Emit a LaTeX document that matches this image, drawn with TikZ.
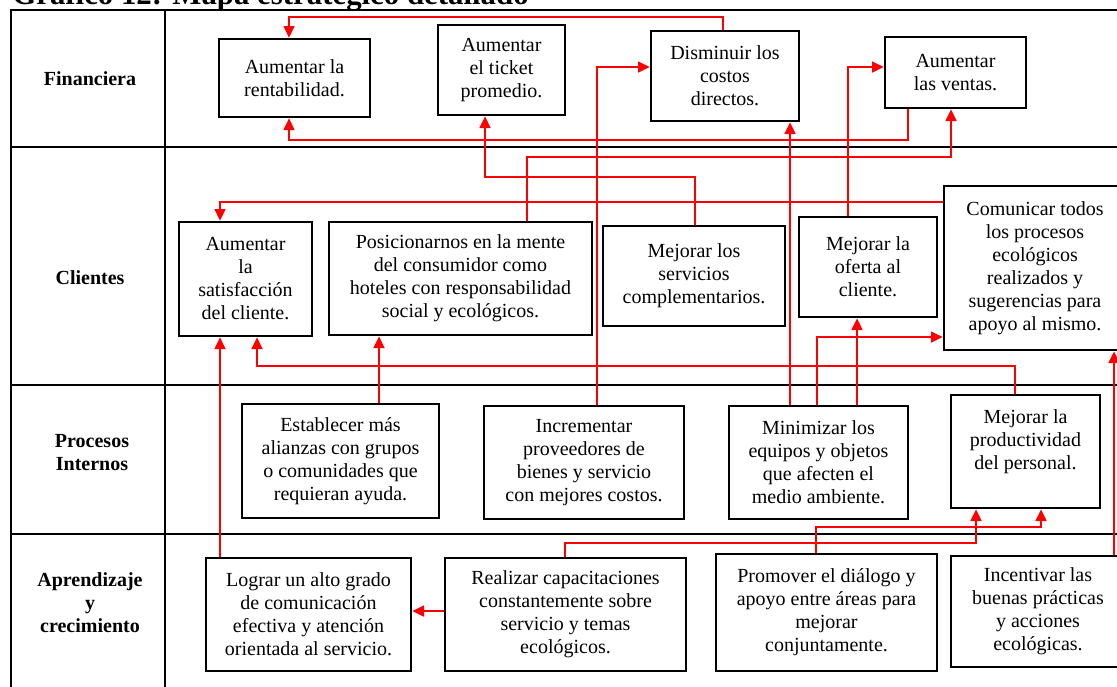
\documentclass[tikz,border=0pt]{standalone}
\usepackage{fontspec}
\setmainfont{Liberation Serif}
\usetikzlibrary{arrows.meta}
\tikzset{
  obj/.style={draw, line width=1.6pt, fill=white, align=center, inner sep=2pt, font=\fontsize{12}{13.8}\selectfont},
  persp/.style={align=center, font=\fontsize{12}{13.8}\selectfont\bfseries},
  tabline/.style={line width=1.4pt},
  link/.style={-{Triangle[length=7pt,width=6.5pt]}, red, line width=1.3pt},
}

\begin{document}
\begin{tikzpicture}[x=0.6pt, y=-0.6pt]
\useasboundingbox (0,0) rectangle (1117,686);
\clip (0,0) rectangle (1117,686);
\node[anchor=base west, inner sep=0pt, font=\fontsize{18.5}{20}\selectfont\bfseries] (titulo) at (12,4) {Gráfico 12: Mapa estratégico detallado};
% tabla de perspectivas
\draw[tabline] (1130,10) -- (11,10) -- (11,700);
\draw[tabline] (165,10) -- (165,700);
\foreach \y in {147,385,534}
  \draw[tabline] (11,\y) -- (1130,\y);
\node[persp] (lfin) at (90,79) {Financiera};
\node[persp] (lcli) at (90,278) {Clientes};
\node[persp] (lpro) at (92,453) {Procesos\\Internos};
\node[persp] (lapr) at (90,603) {Aprendizaje\\y\\crecimiento};
% financiera
\node[obj, minimum width=90.6pt, minimum height=46.8pt] (rent) at (294.5,78) {Aumentar la\\rentabilidad.};
\node[obj, minimum width=76.2pt, minimum height=54pt] (ticket) at (501.5,70) {Aumentar\\el ticket\\promedio.};
\node[obj, minimum width=88.8pt, minimum height=54pt] (costos) at (725,76) {Disminuir los\\costos\\directos.};
\node[obj, minimum width=84.6pt, minimum height=42.6pt] (ventas) at (955.5,72.5) {Aumentar\\las ventas.};
% clientes
\node[obj, minimum width=79.8pt, minimum height=68.4pt] (satisf) at (245.5,279) {Aumentar\\la\\satisfacción\\del cliente.};
\node[obj, minimum width=157.8pt, minimum height=67.8pt] (posic) at (460.5,278.5) {Posicionarnos en la mente\\del consumidor como\\hoteles con responsabilidad\\social y ecológicos.};
\node[obj, minimum width=109.2pt, minimum height=60pt] (serv) at (694,276) {Mejorar los\\servicios\\complementarios.};
\node[obj, minimum width=82.8pt, minimum height=60pt] (oferta) at (868,267) {Mejorar la\\oferta al\\cliente.};
\node[obj, minimum width=109.2pt, minimum height=98.4pt] (comun) at (1035,268) {Comunicar todos\\los procesos\\ecológicos\\realizados y\\sugerencias para\\apoyo al mismo.};
% procesos internos
\node[obj, minimum width=118.2pt, minimum height=68.4pt] (alianz) at (340.5,461) {Establecer más\\alianzas con grupos\\o comunidades que\\requieran ayuda.};
\node[obj, minimum width=120pt, minimum height=67.8pt] (prov) at (584,462.5) {Incrementar\\proveedores de\\bienes y servicio\\con mejores costos.};
\node[obj, minimum width=107.4pt, minimum height=67.8pt] (minim) at (818.5,462.5) {Minimizar los\\equipos y objetos\\que afecten el\\medio ambiente.};
\node[obj, minimum width=89.4pt, minimum height=67.8pt] (produc) at (1025.5,451.5) {Mejorar la\\productividad\\del personal.\\ \mbox{}};
% aprendizaje y crecimiento
\node[obj, minimum width=123pt, minimum height=67.8pt] (lograr) at (308.5,614.5) {Lograr un alto grado\\de comunicación\\efectiva y atención\\orientada al servicio.};
\node[obj, minimum width=144.6pt, minimum height=67.8pt] (capac) at (565.5,614.5) {Realizar capacitaciones\\constantemente sobre\\servicio y temas\\ecológicos.};
\node[obj, minimum width=132.6pt, minimum height=70.2pt] (promov) at (826.5,612.5) {Promover el diálogo y\\apoyo entre áreas para\\mejorar\\conjuntamente.};
\node[obj, minimum width=104.4pt, minimum height=66.6pt] (incent) at (1038,611.5) {Incentivar las\\buenas prácticas\\y acciones\\ecológicas.};
% relaciones causa-efecto
\draw[link] (723,0 |- costos.north) -- (723,17) -| (289,0 |- rent.north);
\draw[link] (908,0 |- ventas.south) -- (908,140) -| (289,0 |- rent.south);
\draw[link] (527,0 |- posic.north) -- (527,157) -| (951,0 |- ventas.south);
\draw[link] (695,0 |- serv.north) -- (695,177) -| (485,0 |- ticket.south);
\draw[link] (597,0 |- prov.north) |- (costos.west |- 0,67);
\draw[link] (790,0 |- minim.north) -- (790,0 |- costos.south);
\draw[link] (857,0 |- minim.north) -- (857,0 |- oferta.south);
\draw[link] (817,0 |- minim.north) |- (comun.west |- 0,337);
\draw[link] (848,0 |- oferta.north) |- (ventas.west |- 0,67);
\draw[link] (comun.west |- 0,202) -| (220,0 |- satisf.north);
\draw[link] (1015,0 |- produc.north) -- (1015,366) -| (257,0 |- satisf.south);
\draw[link] (220,0 |- lograr.north) -- (220,0 |- satisf.south);
\draw[link] (379,0 |- alianz.north) -- (379,0 |- posic.south);
\draw[link] (capac.west |- 0,611) -- (lograr.east |- 0,611);
\draw[link] (565,0 |- capac.north) -- (565,543) -| (976,0 |- produc.south);
\draw[link] (816,0 |- promov.north) -- (816,527) -| (1041,0 |- produc.south);
\draw[link] (1114,0 |- incent.north) -- (1114,0 |- comun.south);
\end{tikzpicture}
\end{document}
